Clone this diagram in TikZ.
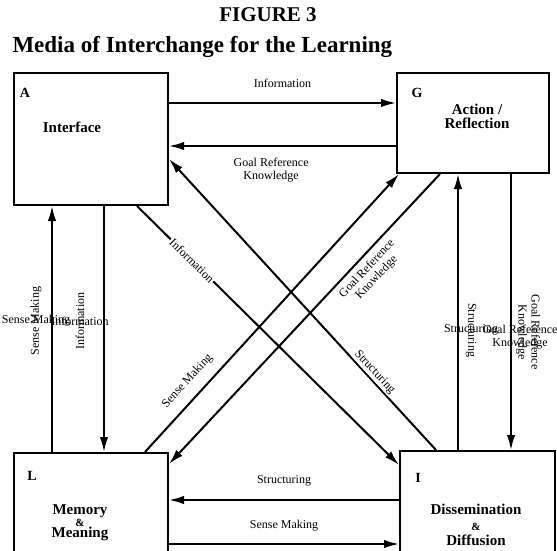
\documentclass[tikz,border=0pt]{standalone}
\usepackage{fontspec}
\setmainfont{Liberation Serif}
\usetikzlibrary{arrows.meta, positioning}

\begin{document}
\begin{tikzpicture}[
        x=1pt, y=-1pt,
        >={Latex[length=15pt, width=8.5pt]},
        box/.style={draw, line width=2pt, inner sep=0pt},
        ln/.style={->, line width=2pt},
        lbl/.style={font=\fontsize{12}{13}\selectfont, align=center, inner sep=1pt},
        gap/.style={lbl, fill=white, sloped},
        boxname/.style={font=\fontsize{15}{14}\bfseries\selectfont, align=center},
        tag/.style={font=\fontsize{14}{15}\bfseries\selectfont}
    ]
        \useasboundingbox (0,0) rectangle (557,551);

        % title
        \node (fig) at (268,15) {\fontsize{21}{24}\bfseries\selectfont FIGURE 3};
        \node[anchor=west] (sub) at (9,47)
            {\fontsize{23}{24}\bfseries\selectfont Media of Interchange for the Learning};

        % the four boxes
        \node[box, minimum width=154pt, minimum height=132pt] (A) at (91,139) {};
        \node[box, minimum width=152pt, minimum height=100pt] (G) at (473,123) {};
        \node[box, minimum width=154pt, minimum height=110pt] (L) at (91,508) {};
        \node[box, minimum width=155pt, minimum height=112pt] (I) at (477.5,507) {};

        \node[tag] (Atag) at (25,93) {A};
        \node[boxname] (Aname) at (72,127) {Interface};
        \node[tag] (Gtag) at (417,93) {G};
        \node[boxname] (Gname) at (477,116) {Action /\\Reflection};
        \node[tag] (Ltag) at (32,476) {L};
        \node[boxname, font=\fontsize{15}{11.5}\bfseries\selectfont] (Lname) at (80,523)
            {Memory\\{\fontsize{11}{11}\selectfont\&}\\Meaning};
        \node[tag] (Itag) at (418,478) {I};
        \node[boxname, font=\fontsize{15}{15.5}\bfseries\selectfont] (Iname) at (476,525)
            {Dissemination\\{\fontsize{11}{11}\selectfont\&}\\Diffusion};

        % A <-> G
        \draw[ln] ([yshift=36pt]A.east) -- ([yshift=36pt]A.east -| G.west)
            node[lbl, midway, above=13pt] {Information};
        \draw[ln] ([yshift=-7pt]A.east -| G.west) -- ([yshift=-7pt]A.east)
            node[lbl, pos=.55, below=10pt] {Goal Reference\\Knowledge};

        % L <-> I
        \draw[ln] ([yshift=7pt]I.west) -- ([yshift=7pt]I.west -| L.east)
            node[lbl, midway, above=12pt] {Structuring};
        \draw[ln] ([yshift=-37pt]I.west -| L.east) -- ([yshift=-37pt]I.west)
            node[lbl, midway, above=11pt] {Sense Making};

        % A <-> L
        \draw[ln] ([xshift=-39pt]L.north) -- ([xshift=-39pt]L.north |- A.south)
            node[lbl, midway, xshift=-16pt, yshift=8pt] {Sense Making}
            node[lbl, midway, xshift=-16pt, yshift=8pt, rotate=90] {Sense Making};
        \draw[ln] ([xshift=13pt]A.south) -- ([xshift=13pt]A.south |- L.north)
            node[lbl, midway, xshift=-24pt, yshift=8pt] {Information}
            node[lbl, midway, xshift=-24pt, yshift=8pt, rotate=90] {Information};

        % G <-> I
        \draw[ln] ([xshift=-19.5pt]I.north) -- ([xshift=-19.5pt]I.north |- G.south)
            node[lbl, midway, xshift=13pt, yshift=-18pt] {Structuring}
            node[lbl, midway, xshift=13pt, yshift=-18pt, rotate=-90] {Structuring};
        \draw[ln] ([xshift=38pt]G.south) -- ([xshift=38pt]G.south |- I.north)
            node[lbl, midway, xshift=9pt, yshift=-25pt] {Goal Reference\\Knowledge}
            node[lbl, midway, xshift=17pt, yshift=-20pt, rotate=-90] {Goal Reference\\Knowledge};

        % the crossing diagonals
        \draw[ln] ([xshift=46pt]A.south) -- ([yshift=-15pt]I.north west)
            node[gap, pos=.21] {Information};
        \draw[ln] ([xshift=-41.5pt]I.north) -- ([yshift=-20pt]A.east)
            node[gap, pos=.25, above=0pt] {Structuring};
        \draw[ln] ([xshift=54pt]L.north) -- ([xshift=3pt]G.south west)
            node[lbl, sloped, pos=.215, above=9pt] {Sense Making};
        \draw[ln] ([xshift=-33pt]G.south) -- ([yshift=-12pt]L.north east)
            node[lbl, sloped, pos=.3, below=4pt] {Goal Reference\\Knowledge};

    \end{tikzpicture}
\end{document}
